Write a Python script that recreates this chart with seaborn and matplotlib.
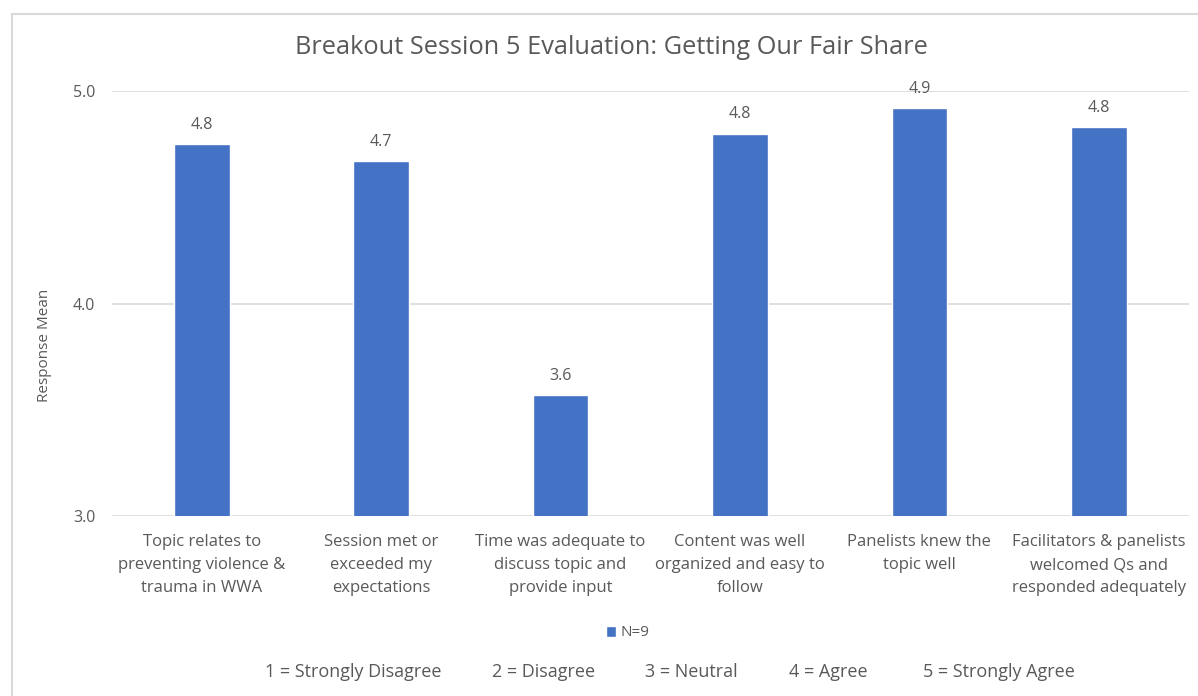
import matplotlib
matplotlib.use("Agg")
import matplotlib.pyplot as plt
from matplotlib.patches import Rectangle
import seaborn as sns
import pandas as pd

# datos del grafico
questions = [
    "Topic relates to\npreventing violence &\ntrauma in WWA",
    "Session met or\nexceeded my\nexpectations",
    "Time was adequate to\ndiscuss topic and\nprovide input",
    "Content was well\norganized and easy to\nfollow",
    "Panelists knew the\ntopic well",
    "Facilitators & panelists\nwelcomed Qs and\nresponded adequately",
]
means = [4.75, 4.67, 3.57, 4.80, 4.92, 4.83]
mean_labels = ["4.8", "4.7", "3.6", "4.8", "4.9", "4.8"]
series_name = "N=9"
y_ticks = [3.0, 4.0, 5.0]
scale_labels = ["1 = Strongly Disagree", "2 = Disagree", "3 = Neutral",
                "4 = Agree", "5 = Strongly Agree"]

title = "Breakout Session 5 Evaluation: Getting Our Fair Share"
text_color = "#595959"
grid_color = "#d9d9d9"
bar_color = "#4472C4"

sns.set_theme(style="white")
plt.rcParams["font.family"] = ["Open Sans", "DejaVu Sans"]

fig = plt.figure(figsize=(11.98, 6.96), dpi=100)
ax = fig.add_axes([0.0935, 0.2586, 0.8986, 0.6106])

df = pd.DataFrame({"question": questions, "mean": means, "series": series_name})
sns.barplot(data=df, x="question", y="mean", hue="series",
            palette=[bar_color], width=0.31, saturation=1, ax=ax)

ax.set_ylim(3, 5)
ax.set_yticks(y_ticks)
ax.set_yticklabels([f"{t:.1f}" for t in y_ticks])
ax.yaxis.grid(True, color=grid_color, linewidth=1.2)
ax.set_axisbelow(True)
for s in ax.spines.values():
    s.set_visible(False)
ax.tick_params(axis="y", length=0, pad=12, labelsize=11.5, labelcolor=text_color)
ax.tick_params(axis="x", length=0, pad=13, labelsize=12, labelcolor=text_color)
for lbl in ax.get_xticklabels():
    lbl.set_linespacing(1.58)
ax.set_xlabel("")
ax.set_ylabel("")

ax.bar_label(ax.containers[0], labels=mean_labels, padding=8,
             fontsize=11.5, color=text_color)

# leyenda
handles, labels = ax.get_legend_handles_labels()
ax.legend(handles, labels, loc="center", bbox_to_anchor=(0.524, 1 - 633 / 696),
          bbox_transform=fig.transFigure, frameon=False, fontsize=11,
          handlelength=0.7, handleheight=0.7, handletextpad=0.3,
          labelcolor=text_color)

fig.text(0.5104, 1 - 48 / 696, title, ha="center", va="center",
         fontsize=18.3, color=text_color)
fig.text(44 / 1198, 1 - 345 / 696, "Response Mean", ha="center", va="center",
         rotation=90, fontsize=11, color=text_color)

# escala de respuestas abajo
scale_x = [265, 492, 645, 789, 923]
for x, txt in zip(scale_x, scale_labels):
    fig.text(x / 1198, 1 - 672 / 696, txt, ha="left", va="center",
             fontsize=13, color=text_color)

# marco del area del grafico
fig.patches.append(Rectangle((12 / 1198, -0.1), 2, 1.1 - 14 / 696,
                             transform=fig.transFigure, fill=False,
                             edgecolor=grid_color, linewidth=1.5))

fig.savefig("out.png", dpi=100)
